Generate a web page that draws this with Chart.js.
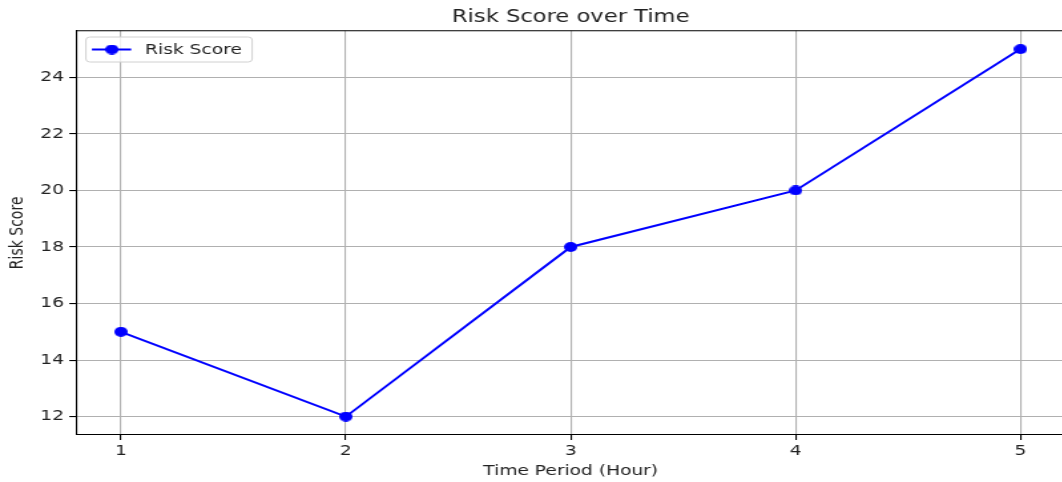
<!DOCTYPE html>
<html>
<head>
<meta charset="utf-8">
<script src="https://cdn.jsdelivr.net/npm/chart.js@4.4.1/dist/chart.umd.min.js"></script>
<style>
  html, body { margin: 0; padding: 0; background: #fff; overflow: hidden; }
  #wrap { width: 812px; height: 482px; transform: scaleX(1.33); transform-origin: 0 0; }
</style>
</head>
<body>
<div id="wrap"><canvas id="chart" width="812" height="482"></canvas></div>
<script>
// chart data
const hours = [1, 2, 3, 4, 5];
const riskScores = [15, 12, 18, 20, 25];
const xTicks = [1, 2, 3, 4, 5];
const yTicks = [12, 14, 16, 18, 20, 22, 24];

const FONT = 'DejaVu Sans';
const TEXT = '#222';

// round dot marker (gets stretched with the page like the reference)
function makeDot(w, h) {
  const c = document.createElement('canvas');
  c.width = w; c.height = h;
  const g = c.getContext('2d');
  g.fillStyle = '#0000ff';
  g.beginPath();
  g.ellipse(w / 2, h / 2, w / 2, h / 2, 0, 0, Math.PI * 2);
  g.fill();
  return c;
}
const dot = makeDot(10, 10);

// title, top spine and legend box
const extras = {
  id: 'extras',
  afterDraw(chart) {
    const { ctx, chartArea: a } = chart;
    ctx.save();
    ctx.strokeStyle = '#000';
    ctx.lineWidth = 1.1;
    ctx.beginPath();
    ctx.moveTo(a.left, a.top);
    ctx.lineTo(a.right, a.top);
    ctx.lineTo(a.right, a.bottom);
    ctx.stroke();

    ctx.fillStyle = TEXT;
    ctx.font = '17px ' + FONT;
    ctx.textAlign = 'center';
    ctx.textBaseline = 'middle';
    ctx.fillText('Risk Score over Time', (a.left + a.right) / 2, 17.5);

    // legend
    const bx = a.left + 7.5, by = 37, bw = 125, bh = 25, r = 3;
    ctx.fillStyle = 'rgba(255,255,255,0.8)';
    ctx.strokeStyle = '#d0d0d0';
    ctx.lineWidth = 1;
    ctx.beginPath();
    ctx.roundRect(bx, by, bw, bh, r);
    ctx.fill();
    ctx.stroke();
    const ly = by + bh / 2;
    ctx.strokeStyle = '#0000ff';
    ctx.lineWidth = 2;
    ctx.beginPath();
    ctx.moveTo(bx + 4.5, ly);
    ctx.lineTo(bx + 34, ly);
    ctx.stroke();
    ctx.drawImage(dot, bx + 19.5 - 5, ly - 5);
    ctx.fillStyle = TEXT;
    ctx.font = '14px ' + FONT;
    ctx.textAlign = 'left';
    ctx.fillText(chart.data.datasets[0].label, bx + 44.5, ly + 0.5);
    ctx.restore();
  }
};

new Chart(document.getElementById('chart'), {
  type: 'line',
  data: {
    datasets: [{
      label: 'Risk Score',
      data: hours.map((h, i) => ({ x: h, y: riskScores[i] })),
      borderColor: '#0000ff',
      backgroundColor: '#0000ff',
      borderWidth: 2,
      pointStyle: dot,
      pointRadius: 5,
      pointHoverRadius: 5,
      tension: 0,
      fill: false
    }]
  },
  options: {
    responsive: false,
    animation: false,
    layout: { padding: { top: 30.7, right: 10.9, left: 0, bottom: 0 } },
    plugins: { legend: { display: false }, title: { display: false }, tooltip: { enabled: false } },
    scales: {
      x: {
        type: 'linear',
        min: 0.8,
        max: 5.2,
        afterBuildTicks: s => { s.ticks = xTicks.map(v => ({ value: v })); },
        afterFit: s => { s.height = 47; },
        grid: { color: '#b0b0b0', lineWidth: 1.1, tickColor: '#000', tickLength: 5 },
        border: { color: '#000', width: 1.1 },
        ticks: { color: TEXT, font: { family: FONT, size: 14 }, padding: 3, maxRotation: 0,
                 callback: v => String(v) },
        title: { display: true, text: 'Time Period (Hour)', color: TEXT,
                 font: { family: FONT, size: 14 }, padding: { top: 0, bottom: 2.6 } }
      },
      y: {
        min: 11.35,
        max: 25.65,
        afterBuildTicks: s => { s.ticks = yTicks.map(v => ({ value: v })); },
        afterFit: s => { s.width = 57.1; },
        grid: { color: '#b0b0b0', lineWidth: 1.1, tickColor: '#000', tickLength: 5 },
        border: { color: '#000', width: 1.1 },
        ticks: { color: TEXT, font: { family: FONT, size: 14 }, padding: 4,
                 callback: v => String(v) },
        title: { display: true, text: 'Risk Score', color: TEXT,
                 font: { family: FONT, size: 14 }, padding: { top: 5, bottom: 0 } }
      }
    }
  },
  plugins: [extras]
});
</script>
</body>
</html>
